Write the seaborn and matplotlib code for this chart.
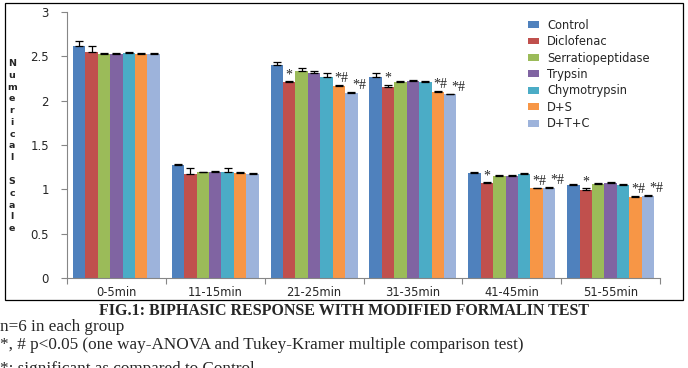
import matplotlib
matplotlib.use("Agg")
import matplotlib.pyplot as plt
import seaborn as sns
import pandas as pd
import numpy as np
from matplotlib.patches import Rectangle

categories = ["0-5min", "11-15min", "21-25min", "31-35min", "41-45min", "51-55min"]
groups = ["Control", "Diclofenac", "Serratiopeptidase", "Trypsin", "Chymotrypsin", "D+S", "D+T+C"]

control = [2.62, 1.27, 2.40, 2.27, 1.18, 1.05]
diclofenac = [2.55, 1.17, 2.21, 2.15, 1.07, 0.99]
serratio = [2.53, 1.19, 2.33, 2.21, 1.15, 1.06]
trypsin = [2.53, 1.19, 2.31, 2.22, 1.15, 1.07]
chymo = [2.54, 1.19, 2.27, 2.21, 1.17, 1.05]
d_s = [2.53, 1.18, 2.16, 2.10, 1.01, 0.91]
d_t_c = [2.53, 1.17, 2.09, 2.07, 1.02, 0.93]

control_err = [0.05, 0.02, 0.04, 0.04, 0.01, 0.01]
diclofenac_err = [0.07, 0.07, 0.01, 0.03, 0.01, 0.02]
serratio_err = [0.01, 0.01, 0.04, 0.01, 0.01, 0.01]
trypsin_err = [0.01, 0.02, 0.03, 0.01, 0.01, 0.01]
chymo_err = [0.01, 0.05, 0.04, 0.01, 0.01, 0.01]
d_s_err = [0.01, 0.01, 0.02, 0.01, 0.01, 0.01]
d_t_c_err = [0.01, 0.01, 0.01, 0.01, 0.01, 0.01]

# significance marks: (category index, group, label)
marks = [(2, "Diclofenac", "*"), (3, "Diclofenac", "*"), (4, "Diclofenac", "*"), (5, "Diclofenac", "*"),
         (2, "D+S", "*#"), (3, "D+S", "*#"), (4, "D+S", "*#"), (5, "D+S", "*#"),
         (2, "D+T+C", "*#"), (3, "D+T+C", "*#"), (4, "D+T+C", "*#"), (5, "D+T+C", "*#")]

colors = ["#4F81BD", "#C0504D", "#9BBB59", "#8064A2", "#4BACC6", "#F79646", "#9DB3DB"]

values = [control, diclofenac, serratio, trypsin, chymo, d_s, d_t_c]
errors = [control_err, diclofenac_err, serratio_err, trypsin_err, chymo_err, d_s_err, d_t_c_err]

rows = []
for g, vals, errs in zip(groups, values, errors):
    for c, v, e in zip(categories, vals, errs):
        rows.append({"time": c, "group": g, "value": v, "err": e})
df = pd.DataFrame(rows)

sns.set_theme(style="white")
plt.rcParams["font.family"] = ["DejaVu Sans"]

fig = plt.figure(figsize=(6.88, 3.68), dpi=100)
ax = fig.add_axes([67/688, 1-278/368, (660-67)/688, (278-12)/368])

sns.barplot(data=df, x="time", y="value", hue="group", order=categories, hue_order=groups,
            palette=colors, errorbar=None, width=0.88, ax=ax, saturation=1, linewidth=0)

bar_containers = list(ax.containers)

# error bars (plus direction only) from bar positions
bar_pos = {}
for gi, cont in enumerate(bar_containers):
    g = groups[gi]
    for ci, bar in enumerate(cont):
        xc = bar.get_x() + bar.get_width() / 2
        h = bar.get_height()
        bar_pos[(ci, g)] = (xc, h, bar.get_width())
        e = errors[gi][ci]
        ax.errorbar(xc, h, yerr=[[0], [e]], fmt="none", ecolor="black", elinewidth=0.9,
                    capsize=3, capthick=0.9)

for ci, g, lab in marks:
    xc, h, w = bar_pos[(ci, g)]
    gi = groups.index(g)
    top = h + errors[gi][ci]
    dx = 0 if g == "Diclofenac" else (2 if g == "D+S" else 6)
    ax.annotate(lab, (xc, top), xytext=(dx, 0), textcoords="offset points",
                ha="center", va="bottom", fontsize=10, family="Liberation Serif")

ax.set_ylim(0, 3)
ax.set_xlim(-0.5, len(categories) - 0.5)
ax.set_yticks([0, 0.5, 1, 1.5, 2, 2.5, 3])
ax.set_yticklabels(["0", "0.5", "1", "1.5", "2", "2.5", "3"])
ax.set_xlabel("")
ax.set_ylabel("")
for s in ["top", "right"]:
    ax.spines[s].set_visible(False)
for s in ["left", "bottom"]:
    ax.spines[s].set_color("#868686")
    ax.spines[s].set_linewidth(0.8)
ax.tick_params(axis="y", length=4, width=0.8, color="#868686", labelsize=8.5, pad=9, left=True)
ax.tick_params(axis="x", length=0, labelsize=8.3, pad=6)
# category boundary ticks
ax.set_xticks(np.arange(len(categories) + 1) - 0.5, minor=True)
ax.tick_params(axis="x", which="minor", length=4, width=0.8, color="#868686", bottom=True)

leg = ax.legend(loc="upper left", bbox_to_anchor=((523-67)/593, 1-(14-12)/266), frameon=False,
                fontsize=8.3, handlelength=1.0, handleheight=0.55, labelspacing=0.3,
                handletextpad=0.7, borderaxespad=0)

# vertical stacked y label
ylab = "Numerical Scale"
fig.text(12/688, 1-146/368, "\n".join(list(ylab)), ha="center", va="center",
         fontsize=6.8, fontweight="bold", linespacing=1.4)

# chart border
fig.patches.append(Rectangle((5/688, 1-300/368), (683-5)/688, (300-3)/368, transform=fig.transFigure,
                             fill=False, edgecolor="black", linewidth=0.9))

fig.text(344/688, 1-311/368, "FIG.1: BIPHASIC RESPONSE WITH MODIFIED FORMALIN TEST",
         ha="center", va="center", fontsize=11.5, fontweight="bold", family="Liberation Serif")
fig.text(0/688, 1-327/368, "n=6 in each group", ha="left", va="center", fontsize=12.3,
         family="Liberation Serif")
fig.text(0/688, 1-345/368, "*, # p<0.05 (one way-ANOVA and Tukey-Kramer multiple comparison test)",
         ha="left", va="center", fontsize=12.3, family="Liberation Serif")
fig.text(0/688, 1-361/368, "*: significant as compared to Control", ha="left", va="top",
         fontsize=12.3, family="Liberation Serif")

fig.savefig("out.png", dpi=100)
